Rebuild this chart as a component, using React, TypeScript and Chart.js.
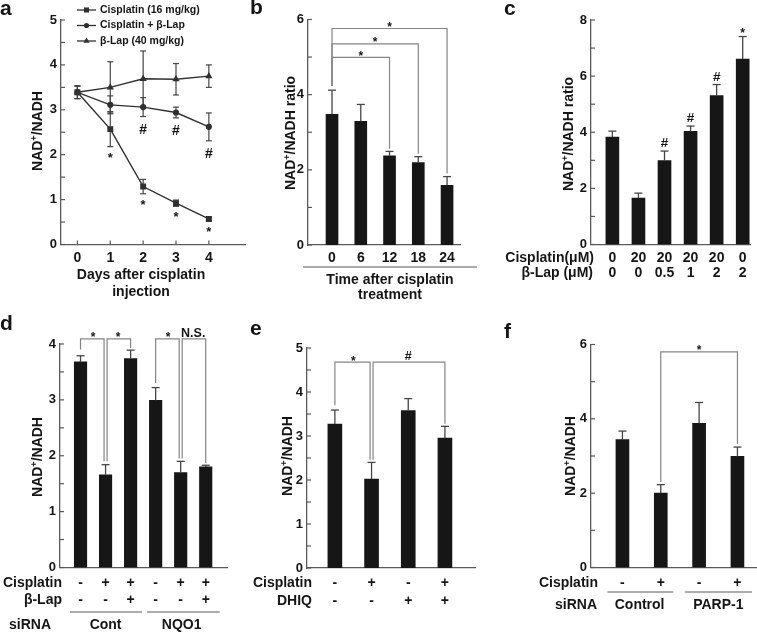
import React, { useEffect, useRef } from 'react';
import { Chart, registerables } from 'chart.js';

Chart.register(...registerables);

const W = 757;
const H = 633;
const FONT = '"Liberation Sans", Arial, Helvetica, sans-serif';
const INK = '#151515';
const AXIS = '#5a5a5a';
const ERR = '#454545';
const BRK = '#858585';
const LINE = '#303030';
const BAR = '#161616';
const YW = 30;

// ---------- Panel a ----------
const aDays = [0, 1, 2, 3, 4];
const aSeriesNames = ['Cisplatin (16 mg/kg)', 'Cisplatin + β-Lap', 'β-Lap (40 mg/kg)'];
const aCisplatin = [3.39, 2.57, 1.29, 0.92, 0.57];
const aCisplatinErr = [0.14, 0.39, 0.16, 0.07, 0.04];
const aCombo = [3.39, 3.11, 3.06, 2.94, 2.62];
const aComboErr = [0.14, 0.2, 0.21, 0.12, 0.31];
const aLap = [3.39, 3.5, 3.69, 3.68, 3.75];
const aLapErr = [0.14, 0.57, 0.62, 0.35, 0.25];
const aCisplatinMarks = ['', '*', '*', '*', '*'];
const aComboMarks = ['', '', '#', '#', '#'];

// ---------- Panel b ----------
const bTimes = ['0', '6', '12', '18', '24'];
const bRatio = [3.48, 3.29, 2.37, 2.19, 1.59];
const bErr = [0.64, 0.45, 0.12, 0.16, 0.23];
const bBrackets = [
  { from: 0, to: 2, h: 4.99, fromEnd: 4.23, toEnd: 2.56, label: '*' },
  { from: 0, to: 3, h: 5.35, fromEnd: 4.23, toEnd: 2.43, label: '*' },
  { from: 0, to: 4, h: 5.76, fromEnd: 4.23, toEnd: 1.9, label: '*' },
];

// ---------- Panel c ----------
const cCisplatin = ['0', '20', '20', '20', '20', '0'];
const cLap = ['0', '0', '0.5', '1', '2', '2'];
const cRatio = [3.83, 1.65, 2.99, 4.03, 5.31, 6.61];
const cErr = [0.21, 0.18, 0.34, 0.19, 0.39, 0.8];
const cMarks = ['', '', '#', '#', '#', '*'];

// ---------- Panel d ----------
const dCisplatin = ['-', '+', '+', '-', '+', '+'];
const dLap = ['-', '-', '+', '-', '-', '+'];
const dSiRNA = ['Cont', 'NQO1'];
const dRatio = [3.68, 1.66, 3.74, 2.99, 1.7, 1.8];
const dErr = [0.11, 0.18, 0.15, 0.23, 0.2, 0.03];
const dBrackets = [
  { from: 0, to: 1, h: 4.09, fromEnd: 3.9, toEnd: 1.9, label: '*', toOff: -1.5 },
  { from: 1, to: 2, h: 4.09, fromEnd: 1.9, toEnd: 3.93, label: '*', fromOff: 1.5 },
  { from: 3, to: 4, h: 4.09, fromEnd: 3.3, toEnd: 1.95, label: '*', toOff: -1.5 },
  { from: 4, to: 5, h: 4.09, fromEnd: 1.95, toEnd: 1.87, label: 'N.S.', fromOff: 1.5 },
];

// ---------- Panel e ----------
const eCisplatin = ['-', '+', '-', '+'];
const eDHIQ = ['-', '-', '+', '+'];
const eRatio = [3.27, 2.02, 3.58, 2.95];
const eErr = [0.32, 0.38, 0.27, 0.27];
const eBrackets = [
  { from: 0, to: 1, h: 4.68, fromEnd: 3.7, toEnd: 2.46, label: '*', toOff: -1.5 },
  { from: 1, to: 3, h: 4.68, fromEnd: 2.46, toEnd: 3.28, label: '#', fromOff: 1.5 },
];

// ---------- Panel f ----------
const fCisplatin = ['-', '+', '-', '+'];
const fSiRNA = ['Control', 'PARP-1'];
const fRatio = [3.44, 2.0, 3.88, 2.99];
const fErr = [0.23, 0.23, 0.56, 0.25];
const fBrackets = [{ from: 1, to: 3, h: 5.8, fromEnd: 2.3, toEnd: 3.32, label: '*' }];

type Box = { left: number; top: number; right: number; bottom: number };
type Bracket = { from: number; to: number; h: number; fromEnd: number; toEnd: number; label: string; fromOff?: number; toOff?: number };

function txt(ctx: CanvasRenderingContext2D, s: string, x: number, y: number, o: any = {}) {
  ctx.save();
  ctx.font = `${o.weight ?? 'bold'} ${o.size ?? 14}px ${FONT}`;
  ctx.fillStyle = o.color ?? INK;
  ctx.textAlign = o.align ?? 'center';
  ctx.textBaseline = o.base ?? 'middle';
  ctx.fillText(s, x, y);
  ctx.restore();
}

function yTitle(ctx: CanvasRenderingContext2D, cx: number, cy: number, suffix = '') {
  const mainF = `bold 14px ${FONT}`;
  const supF = `bold 9px ${FONT}`;
  const parts: [string, string, number][] = [['NAD', mainF, 0], ['+', supF, -5.5], ['/NADH' + suffix, mainF, 0]];
  ctx.save();
  ctx.translate(cx, cy);
  ctx.rotate(-Math.PI / 2);
  ctx.fillStyle = INK;
  ctx.textAlign = 'left';
  ctx.textBaseline = 'alphabetic';
  let total = 0;
  for (const [t, f] of parts) { ctx.font = f; total += ctx.measureText(t).width; }
  let x = -total / 2;
  for (const [t, f, dy] of parts) { ctx.font = f; ctx.fillText(t, x, 5 + dy); x += ctx.measureText(t).width; }
  ctx.restore();
}

function panelLabel(ctx: CanvasRenderingContext2D, s: string, x: number, y: number) {
  txt(ctx, s, x, y, { size: 21, align: 'left', base: 'alphabetic' });
}

function line(ctx: CanvasRenderingContext2D, x1: number, y1: number, x2: number, y2: number, color = AXIS, w = 1.2) {
  ctx.save();
  ctx.strokeStyle = color;
  ctx.lineWidth = w;
  ctx.beginPath();
  ctx.moveTo(x1, y1);
  ctx.lineTo(x2, y2);
  ctx.stroke();
  ctx.restore();
}

function yTickMarks(chart: any) {
  const ys = chart.scales.y;
  const left = chart.chartArea.left;
  for (const t of ys.ticks) {
    const p = ys.getPixelForValue(t.value);
    line(chart.ctx, left, p, left + 4, p, AXIS, 1.2);
  }
}

function drawBrackets(chart: any, list: Bracket[]) {
  const ctx = chart.ctx as CanvasRenderingContext2D;
  const xs = chart.scales.x;
  const ys = chart.scales.y;
  ctx.save();
  ctx.strokeStyle = BRK;
  ctx.lineWidth = 1.2;
  for (const b of list) {
    const x1 = xs.getPixelForValue(b.from) + (b.fromOff ?? 0);
    const x2 = xs.getPixelForValue(b.to) + (b.toOff ?? 0);
    const yh = ys.getPixelForValue(b.h);
    ctx.beginPath();
    ctx.moveTo(x1, ys.getPixelForValue(b.fromEnd));
    ctx.lineTo(x1, yh);
    ctx.lineTo(x2, yh);
    ctx.lineTo(x2, ys.getPixelForValue(b.toEnd));
    ctx.stroke();
    const mx = (xs.getPixelForValue(b.from) + xs.getPixelForValue(b.to)) / 2;
    if (b.label === '*') txt(ctx, '*', mx, yh + 2.5, { size: 12, base: 'alphabetic' });
    else txt(ctx, b.label, mx, yh - 2, { size: 12.5, base: 'alphabetic' });
  }
  ctx.restore();
}

function drawErrUp(chart: any, values: number[], errs: number[]) {
  const xs = chart.scales.x;
  const ys = chart.scales.y;
  values.forEach((v, i) => {
    const x = xs.getPixelForValue(i);
    const y0 = ys.getPixelForValue(v);
    const y1 = ys.getPixelForValue(v + errs[i]);
    line(chart.ctx, x, y0, x, y1, ERR, 1.3);
    line(chart.ctx, x - 4, y1, x + 4, y1, ERR, 1.3);
  });
}

function padding(box: Box) {
  return { left: box.left - YW, top: box.top, right: W - box.right, bottom: H - box.bottom };
}

function yAxis(yMax: number, step: number, major: number) {
  return {
    type: 'linear',
    min: 0,
    max: yMax,
    grid: { display: false, drawTicks: false },
    border: { display: true, color: AXIS, width: 1.3 },
    ticks: {
      stepSize: step,
      autoSkip: false,
      maxTicksLimit: 100,
      padding: 4,
      color: INK,
      font: { family: FONT, size: 13, weight: 'bold' },
      callback: (v: number) => {
        const r = v / major;
        return Math.abs(r - Math.round(r)) < 1e-6 ? String(Math.round(v)) : '';
      },
    },
    afterFit: (s: any) => { s.width = YW; },
  };
}

function xAxis(min: number, max: number) {
  return {
    type: 'linear',
    min,
    max,
    offset: false,
    grid: { display: false, drawTicks: false },
    border: { display: true, color: AXIS, width: 1.3 },
    ticks: { display: false },
    afterFit: (s: any) => { s.height = 0; },
  };
}

function marker(ctx: CanvasRenderingContext2D, style: string, x: number, y: number, r: number) {
  ctx.save();
  ctx.fillStyle = LINE;
  ctx.beginPath();
  if (style === 'rect') {
    const s = r * Math.SQRT1_2;
    ctx.rect(x - s, y - s, 2 * s, 2 * s);
  } else if (style === 'circle') {
    ctx.arc(x, y, r, 0, Math.PI * 2);
  } else {
    ctx.moveTo(x, y - r);
    ctx.lineTo(x + r * 0.866, y + r * 0.5);
    ctx.lineTo(x - r * 0.866, y + r * 0.5);
    ctx.closePath();
  }
  ctx.fill();
  ctx.restore();
}

// ---------- Panel a config ----------
function configA() {
  const box: Box = { left: 61, top: 20, right: 245, bottom: 244.5 };
  const series = [
    { name: aSeriesNames[0], data: aCisplatin, err: aCisplatinErr, style: 'rect', r: 4.2, lr: 3.6 },
    { name: aSeriesNames[1], data: aCombo, err: aComboErr, style: 'circle', r: 3.1, lr: 2.6 },
    { name: aSeriesNames[2], data: aLap, err: aLapErr, style: 'triangle', r: 4.2, lr: 3.6 },
  ];
  const plugin = {
    id: 'aExtras',
    beforeDatasetsDraw(chart: any) {
      const xs = chart.scales.x;
      const ys = chart.scales.y;
      for (const s of series) {
        s.data.forEach((v, i) => {
          const x = xs.getPixelForValue(aDays[i]);
          const y1 = ys.getPixelForValue(v - s.err[i]);
          const y2 = ys.getPixelForValue(v + s.err[i]);
          line(chart.ctx, x, y1, x, y2, ERR, 1.2);
          line(chart.ctx, x - 3, y1, x + 3, y1, ERR, 1.2);
          line(chart.ctx, x - 3, y2, x + 3, y2, ERR, 1.2);
        });
      }
    },
    afterDraw(chart: any) {
      const ctx = chart.ctx as CanvasRenderingContext2D;
      const xs = chart.scales.x;
      const ys = chart.scales.y;
      const ca = chart.chartArea;
      yTickMarks(chart);
      aDays.forEach((d) => {
        const x = xs.getPixelForValue(d);
        line(ctx, x, ca.bottom, x, ca.bottom - 4, AXIS, 1.2);
        txt(ctx, String(d), x, 258, { size: 14 });
      });
      panelLabel(ctx, 'a', 0, 15);
      yTitle(ctx, 37, 131);
      txt(ctx, 'Days after cisplatin', 141, 275, { size: 14 });
      txt(ctx, 'injection', 141, 292, { size: 14 });
      // legend
      series.forEach((s, i) => {
        const y = 10 + i * 15.5;
        line(ctx, 77, y, 96, y, LINE, 1.3);
        marker(ctx, s.style, 86.5, y, s.lr);
        txt(ctx, s.name, 100, y, { size: 10.5, align: 'left' });
      });
      // significance marks below the lower error ends
      aDays.forEach((d, i) => {
        const x = xs.getPixelForValue(d);
        if (aCisplatinMarks[i]) {
          const low = ys.getPixelForValue(aCisplatin[i] - aCisplatinErr[i]);
          txt(ctx, aCisplatinMarks[i], x, low + 15, { size: 13, base: 'alphabetic' });
        }
        if (aComboMarks[i]) {
          const low = ys.getPixelForValue(aCombo[i] - aComboErr[i]);
          txt(ctx, aComboMarks[i], x, low + 17, { size: 14, base: 'alphabetic' });
        }
      });
    },
  };
  return {
    type: 'line',
    data: {
      datasets: series.map((s) => ({
        label: s.name,
        data: s.data.map((v, i) => ({ x: aDays[i], y: v })),
        borderColor: LINE,
        borderWidth: 1.4,
        pointStyle: s.style,
        pointRadius: s.r,
        pointBackgroundColor: LINE,
        pointBorderColor: LINE,
        pointBorderWidth: 0,
        tension: 0,
        fill: false,
      })),
    },
    options: {
      responsive: false,
      animation: false,
      devicePixelRatio: 1,
      layout: { padding: padding(box) },
      plugins: { legend: { display: false }, tooltip: { enabled: false } },
      scales: { x: xAxis(-0.5, 5.1), y: yAxis(5, 0.5, 1) },
    },
    plugins: [plugin],
  };
}

function barConfig(spec: {
  id: string; box: Box; xMin: number; xMax: number; yMax: number; step: number; major: number;
  values: number[]; errs: number[]; barWidth: number; extra: (chart: any, ctx: CanvasRenderingContext2D) => void;
}) {
  const plugin = {
    id: spec.id,
    afterDatasetsDraw(chart: any) { drawErrUp(chart, spec.values, spec.errs); },
    afterDraw(chart: any) {
      yTickMarks(chart);
      spec.extra(chart, chart.ctx);
    },
  };
  return {
    type: 'bar',
    data: {
      datasets: [{
        data: spec.values.map((v, i) => ({ x: i, y: v })),
        backgroundColor: BAR,
        borderWidth: 0,
        barThickness: spec.barWidth,
      }],
    },
    options: {
      responsive: false,
      animation: false,
      devicePixelRatio: 1,
      layout: { padding: padding(spec.box) },
      plugins: { legend: { display: false }, tooltip: { enabled: false } },
      scales: { x: xAxis(spec.xMin, spec.xMax), y: yAxis(spec.yMax, spec.step, spec.major) },
    },
    plugins: [plugin],
  };
}

function configB() {
  return barConfig({
    id: 'bExtras', box: { left: 308, top: 19.5, right: 460, bottom: 245 }, xMin: -0.835, xMax: 4.45,
    yMax: 6, step: 1, major: 2, values: bRatio, errs: bErr, barWidth: 12,
    extra: (chart, ctx) => {
      const xs = chart.scales.x;
      panelLabel(ctx, 'b', 250, 14);
      yTitle(ctx, 290, 133, ' ratio');
      bTimes.forEach((t, i) => txt(ctx, t, xs.getPixelForValue(i), 258, { size: 14 }));
      line(ctx, xs.getPixelForValue(0) - 29, 267, xs.getPixelForValue(bTimes.length - 1) + 30, 267, AXIS, 1.2);
      txt(ctx, 'Time after cisplatin', 390, 280, { size: 14 });
      txt(ctx, 'treatment', 390, 295, { size: 14 });
      drawBrackets(chart, bBrackets);
    },
  });
}

function configC() {
  return barConfig({
    id: 'cExtras', box: { left: 591, top: 20, right: 750, bottom: 244.5 }, xMin: -0.82, xMax: 5.28,
    yMax: 8, step: 1, major: 2, values: cRatio, errs: cErr, barWidth: 13,
    extra: (chart, ctx) => {
      const xs = chart.scales.x;
      const ys = chart.scales.y;
      panelLabel(ctx, 'c', 504, 15);
      yTitle(ctx, 568, 134, ' ratio');
      txt(ctx, 'Cisplatin(μM)', 594, 258, { size: 14, align: 'right' });
      txt(ctx, 'β-Lap (μM)', 593, 273, { size: 14, align: 'right' });
      cCisplatin.forEach((t, i) => txt(ctx, t, xs.getPixelForValue(i), 258, { size: 14 }));
      cLap.forEach((t, i) => txt(ctx, t, xs.getPixelForValue(i), 273, { size: 14 }));
      cMarks.forEach((m, i) => {
        if (!m) return;
        const top = ys.getPixelForValue(cRatio[i] + cErr[i]);
        if (m === '*') txt(ctx, m, xs.getPixelForValue(i), top, { size: 12, base: 'alphabetic' });
        else txt(ctx, m, xs.getPixelForValue(i), top - 4, { size: 13.5, base: 'alphabetic' });
      });
    },
  });
}

function configD() {
  return barConfig({
    id: 'dExtras', box: { left: 60, top: 344, right: 227, bottom: 567.5 }, xMin: -0.82, xMax: 5.85,
    yMax: 4, step: 0.5, major: 1, values: dRatio, errs: dErr, barWidth: 12.5,
    extra: (chart, ctx) => {
      const xs = chart.scales.x;
      panelLabel(ctx, 'd', 0, 330);
      yTitle(ctx, 37, 457);
      drawBrackets(chart, dBrackets);
      txt(ctx, 'Cisplatin', 62, 583, { size: 14, align: 'right' });
      txt(ctx, 'β-Lap', 62, 600, { size: 14, align: 'right' });
      dCisplatin.forEach((t, i) => txt(ctx, t, xs.getPixelForValue(i), 583, { size: 14 }));
      dLap.forEach((t, i) => txt(ctx, t, xs.getPixelForValue(i), 600, { size: 14 }));
      line(ctx, xs.getPixelForValue(0) - 10.5, 612, xs.getPixelForValue(2) + 11.5, 612, AXIS, 1.2);
      line(ctx, xs.getPixelForValue(3) - 8.5, 612, xs.getPixelForValue(5) + 14, 612, AXIS, 1.2);
      txt(ctx, 'siRNA', 30, 625, { size: 14 });
      txt(ctx, dSiRNA[0], xs.getPixelForValue(1), 625, { size: 14 });
      txt(ctx, dSiRNA[1], xs.getPixelForValue(4) + 1, 625, { size: 14 });
    },
  });
}

function configE() {
  return barConfig({
    id: 'eExtras', box: { left: 307, top: 348, right: 475, bottom: 568 }, xMin: -0.76, xMax: 3.82,
    yMax: 5, step: 0.5, major: 1, values: eRatio, errs: eErr, barWidth: 14,
    extra: (chart, ctx) => {
      const xs = chart.scales.x;
      panelLabel(ctx, 'e', 250, 335);
      yTitle(ctx, 287, 456);
      drawBrackets(chart, eBrackets);
      txt(ctx, 'Cisplatin', 312, 583, { size: 14, align: 'right' });
      txt(ctx, 'DHIQ', 312, 601, { size: 14, align: 'right' });
      eCisplatin.forEach((t, i) => txt(ctx, t, xs.getPixelForValue(i), 583, { size: 14 }));
      eDHIQ.forEach((t, i) => txt(ctx, t, xs.getPixelForValue(i), 601, { size: 14 }));
    },
  });
}

function configF() {
  return barConfig({
    id: 'fExtras', box: { left: 591, top: 344.5, right: 757, bottom: 567.5 }, xMin: -0.82, xMax: 3.51,
    yMax: 6, step: 1, major: 2, values: fRatio, errs: fErr, barWidth: 13,
    extra: (chart, ctx) => {
      const xs = chart.scales.x;
      panelLabel(ctx, 'f', 504, 338);
      yTitle(ctx, 570, 456);
      drawBrackets(chart, fBrackets);
      txt(ctx, 'Cisplatin', 598, 583, { size: 14, align: 'right' });
      fCisplatin.forEach((t, i) => txt(ctx, t, xs.getPixelForValue(i), 583, { size: 14 }));
      line(ctx, xs.getPixelForValue(0) - 15, 592, xs.getPixelForValue(1) + 12.5, 592, AXIS, 1.2);
      line(ctx, xs.getPixelForValue(2) - 14, 592, xs.getPixelForValue(3) + 14.5, 592, AXIS, 1.2);
      txt(ctx, 'siRNA', 597, 605, { size: 14, align: 'right' });
      txt(ctx, fSiRNA[0], (xs.getPixelForValue(0) + xs.getPixelForValue(1)) / 2 - 2, 605, { size: 14 });
      txt(ctx, fSiRNA[1], (xs.getPixelForValue(2) + xs.getPixelForValue(3)) / 2, 605, { size: 14 });
    },
  });
}

const builders = [configA, configB, configC, configD, configE, configF];

export default function App() {
  const refs = useRef<(HTMLCanvasElement | null)[]>([]);
  useEffect(() => {
    const charts = builders.map((b, i) => new Chart(refs.current[i] as HTMLCanvasElement, b() as any));
    return () => charts.forEach((c) => c.destroy());
  }, []);
  return (
    <div style={{ position: 'absolute', left: 0, top: 0, width: W, height: H, background: '#fff' }}>
      {builders.map((_, i) => (
        <canvas
          key={i}
          ref={(el) => { refs.current[i] = el; }}
          width={W}
          height={H}
          style={{ position: 'absolute', left: 0, top: 0, width: W, height: H }}
        />
      ))}
    </div>
  );
}
